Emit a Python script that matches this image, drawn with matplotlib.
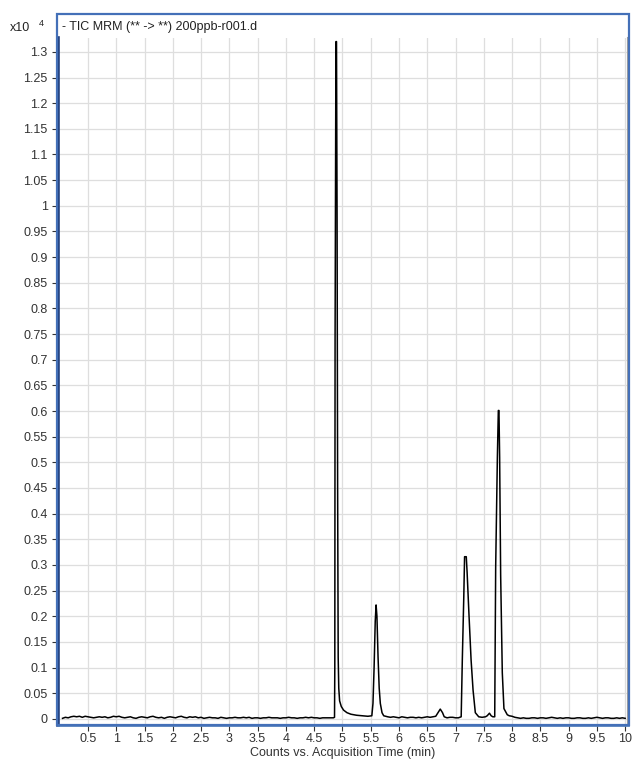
import matplotlib
matplotlib.use("Agg")
import matplotlib.pyplot as plt
from matplotlib.patches import Rectangle
import numpy as np

plt.rcParams['font.family'] = ['Liberation Sans', 'DejaVu Sans']

# chromatogram trace (time in min, counts in units of 1e4)
base_t = [0.05, 0.10, 0.15, 0.20, 0.25, 0.30, 0.35, 0.40, 0.45, 0.50,
          0.55, 0.60, 0.65, 0.70, 0.75, 0.80, 0.85, 0.90, 0.95, 1.00,
          1.05, 1.10, 1.15, 1.20, 1.25, 1.30, 1.35, 1.40, 1.45, 1.50,
          1.55, 1.60, 1.65, 1.70, 1.75, 1.80, 1.85, 1.90, 1.95, 2.00,
          2.05, 2.10, 2.15, 2.20, 2.25, 2.30, 2.35, 2.40, 2.45, 2.50,
          2.55, 2.60, 2.65, 2.70, 2.75, 2.80, 2.85, 2.90, 2.95, 3.00,
          3.05, 3.10, 3.15, 3.20, 3.25, 3.30, 3.35, 3.40, 3.45, 3.50,
          3.55, 3.60, 3.65, 3.70, 3.75, 3.80, 3.85, 3.90, 3.95, 4.00,
          4.05, 4.10, 4.15, 4.20, 4.25, 4.30, 4.35, 4.40, 4.45, 4.50,
          4.55, 4.60, 4.65, 4.70, 4.75, 4.80, 4.84]
base_c = [0.001, 0.003, 0.002, 0.004, 0.005, 0.004, 0.005, 0.003, 0.005, 0.004,
          0.003, 0.002, 0.003, 0.004, 0.003, 0.004, 0.002, 0.003, 0.005, 0.004,
          0.005, 0.003, 0.002, 0.003, 0.004, 0.002, 0.001, 0.003, 0.004, 0.003,
          0.002, 0.004, 0.005, 0.003, 0.002, 0.003, 0.001, 0.003, 0.004, 0.003,
          0.002, 0.004, 0.005, 0.003, 0.002, 0.004, 0.003, 0.004, 0.002, 0.003,
          0.001, 0.002, 0.003, 0.002, 0.002, 0.001, 0.003, 0.002, 0.001, 0.002,
          0.002, 0.003, 0.002, 0.002, 0.003, 0.002, 0.003, 0.001, 0.002, 0.002,
          0.001, 0.002, 0.002, 0.003, 0.002, 0.002, 0.002, 0.001, 0.002, 0.002,
          0.003, 0.002, 0.002, 0.001, 0.002, 0.002, 0.003, 0.002, 0.003, 0.002,
          0.002, 0.001, 0.002, 0.002, 0.002, 0.002, 0.002]

peaks_t = [4.86, 4.865, 4.87, 4.885, 4.895, 4.905, 4.915, 4.925, 4.935, 4.95,
           4.98, 5.02, 5.08, 5.15, 5.25, 5.35, 5.45,
           5.52, 5.54, 5.56, 5.58, 5.595, 5.61, 5.63, 5.65, 5.67, 5.70, 5.73,
           5.80, 5.85, 5.90, 5.95, 6.00, 6.05, 6.10, 6.15, 6.20, 6.25, 6.30,
           6.35, 6.40, 6.45, 6.50, 6.55, 6.60,
           6.65, 6.69, 6.73, 6.77, 6.80, 6.85, 6.90, 6.95, 7.00, 7.05,
           7.10, 7.12, 7.146, 7.16, 7.19, 7.205, 7.235, 7.275, 7.31, 7.35, 7.41,
           7.47, 7.53, 7.56, 7.60, 7.63, 7.66,
           7.693, 7.71, 7.74, 7.757, 7.768, 7.78, 7.798, 7.827, 7.856, 7.915,
           7.95, 8.0, 8.05]
peaks_c = [0.003, 0.10, 0.74, 1.32, 1.32, 0.98, 0.45, 0.12, 0.06, 0.035,
           0.024, 0.017, 0.012, 0.009, 0.007, 0.006, 0.005,
           0.006, 0.03, 0.10, 0.19, 0.222, 0.20, 0.12, 0.06, 0.03, 0.012, 0.006,
           0.004, 0.003, 0.004, 0.003, 0.002, 0.004, 0.003, 0.002, 0.003, 0.003,
           0.002, 0.003, 0.002, 0.003, 0.004, 0.003, 0.004,
           0.005, 0.012, 0.019, 0.012, 0.004, 0.002, 0.003, 0.003, 0.002, 0.002,
           0.004, 0.115, 0.238, 0.316, 0.316, 0.285, 0.21, 0.115, 0.056, 0.012, 0.004,
           0.003, 0.004, 0.006, 0.011, 0.006, 0.004,
           0.004, 0.296, 0.51, 0.601, 0.601, 0.51, 0.28, 0.09, 0.02, 0.008,
           0.006, 0.005, 0.003]

tail_t = [8.10, 8.15, 8.20, 8.25, 8.30, 8.35, 8.40, 8.45, 8.50, 8.55,
          8.60, 8.65, 8.70, 8.75, 8.80, 8.85, 8.90, 8.95, 9.00, 9.05,
          9.10, 9.15, 9.20, 9.25, 9.30, 9.35, 9.40, 9.45, 9.50, 9.55,
          9.60, 9.65, 9.70, 9.75, 9.80, 9.85, 9.90, 9.95, 10.0]
tail_c = [0.002, 0.001, 0.002, 0.001, 0.001, 0.002, 0.002, 0.001, 0.002, 0.002,
          0.001, 0.002, 0.003, 0.002, 0.001, 0.002, 0.001, 0.002, 0.002, 0.001,
          0.001, 0.002, 0.002, 0.001, 0.001, 0.002, 0.001, 0.002, 0.003, 0.002,
          0.001, 0.002, 0.002, 0.001, 0.001, 0.002, 0.001, 0.002, 0.001]

x_ticks = [0.5, 1, 1.5, 2, 2.5, 3, 3.5, 4, 4.5, 5, 5.5, 6, 6.5, 7, 7.5, 8, 8.5, 9, 9.5, 10]
y_ticks = [round(i * 0.05, 2) for i in range(27)]

times = np.array(base_t + peaks_t + tail_t)
counts = np.array(base_c + peaks_c + tail_c)

W, H = 633, 760
fig = plt.figure(figsize=(W / 100, H / 100), dpi=100)
ax = fig.add_axes([58 / W, 1 - 725 / H, (628 - 58) / W, (725 - 38) / H])

ax.plot(times, counts, color='black', lw=1.1, zorder=3)
ax.set_xlim(-0.03, 10.05)
ax.set_ylim(-0.012, 1.327)

ax.set_xticks(x_ticks)
ax.set_xticklabels(['%g' % v for v in x_ticks])
ax.set_yticks(y_ticks)
ax.set_yticklabels(['%g' % v for v in y_ticks])
ax.grid(True, color='#dedede', lw=0.9, zorder=0)
ax.tick_params(axis='both', labelsize=9, colors='#333333', length=4, width=0.8)
ax.tick_params(axis='x', pad=2)

ax.spines['left'].set_color('#22407e')
ax.spines['left'].set_linewidth(2.6)
ax.spines['bottom'].set_color('#5582bd')
ax.spines['bottom'].set_linewidth(2.0)
ax.spines['right'].set_color('#a0a0a0')
ax.spines['right'].set_linewidth(1.5)
ax.spines['top'].set_visible(False)

# outer panel frame with title strip
fig.patches.append(Rectangle((57 / W, 1 - 725 / H), (629 - 57) / W, (725 - 14) / H,
                             transform=fig.transFigure, fill=False,
                             edgecolor='#4470b8', lw=1.6, zorder=5))

fig.text(62 / W, 1 - 27 / H, '- TIC MRM (** -> **) 200ppb-r001.d',
         fontsize=9, color='#222222', va='center', ha='left')
fig.text(10 / W, 1 - 28 / H, 'x10', fontsize=9, color='#222222', va='center', ha='left')
fig.text(39 / W, 1 - 24 / H, '4', fontsize=6.5, color='#222222', va='center', ha='left')

ax.set_xlabel('Counts vs. Acquisition Time (min)', fontsize=9, color='#333333', labelpad=1)

fig.savefig('out.png', dpi=100)
